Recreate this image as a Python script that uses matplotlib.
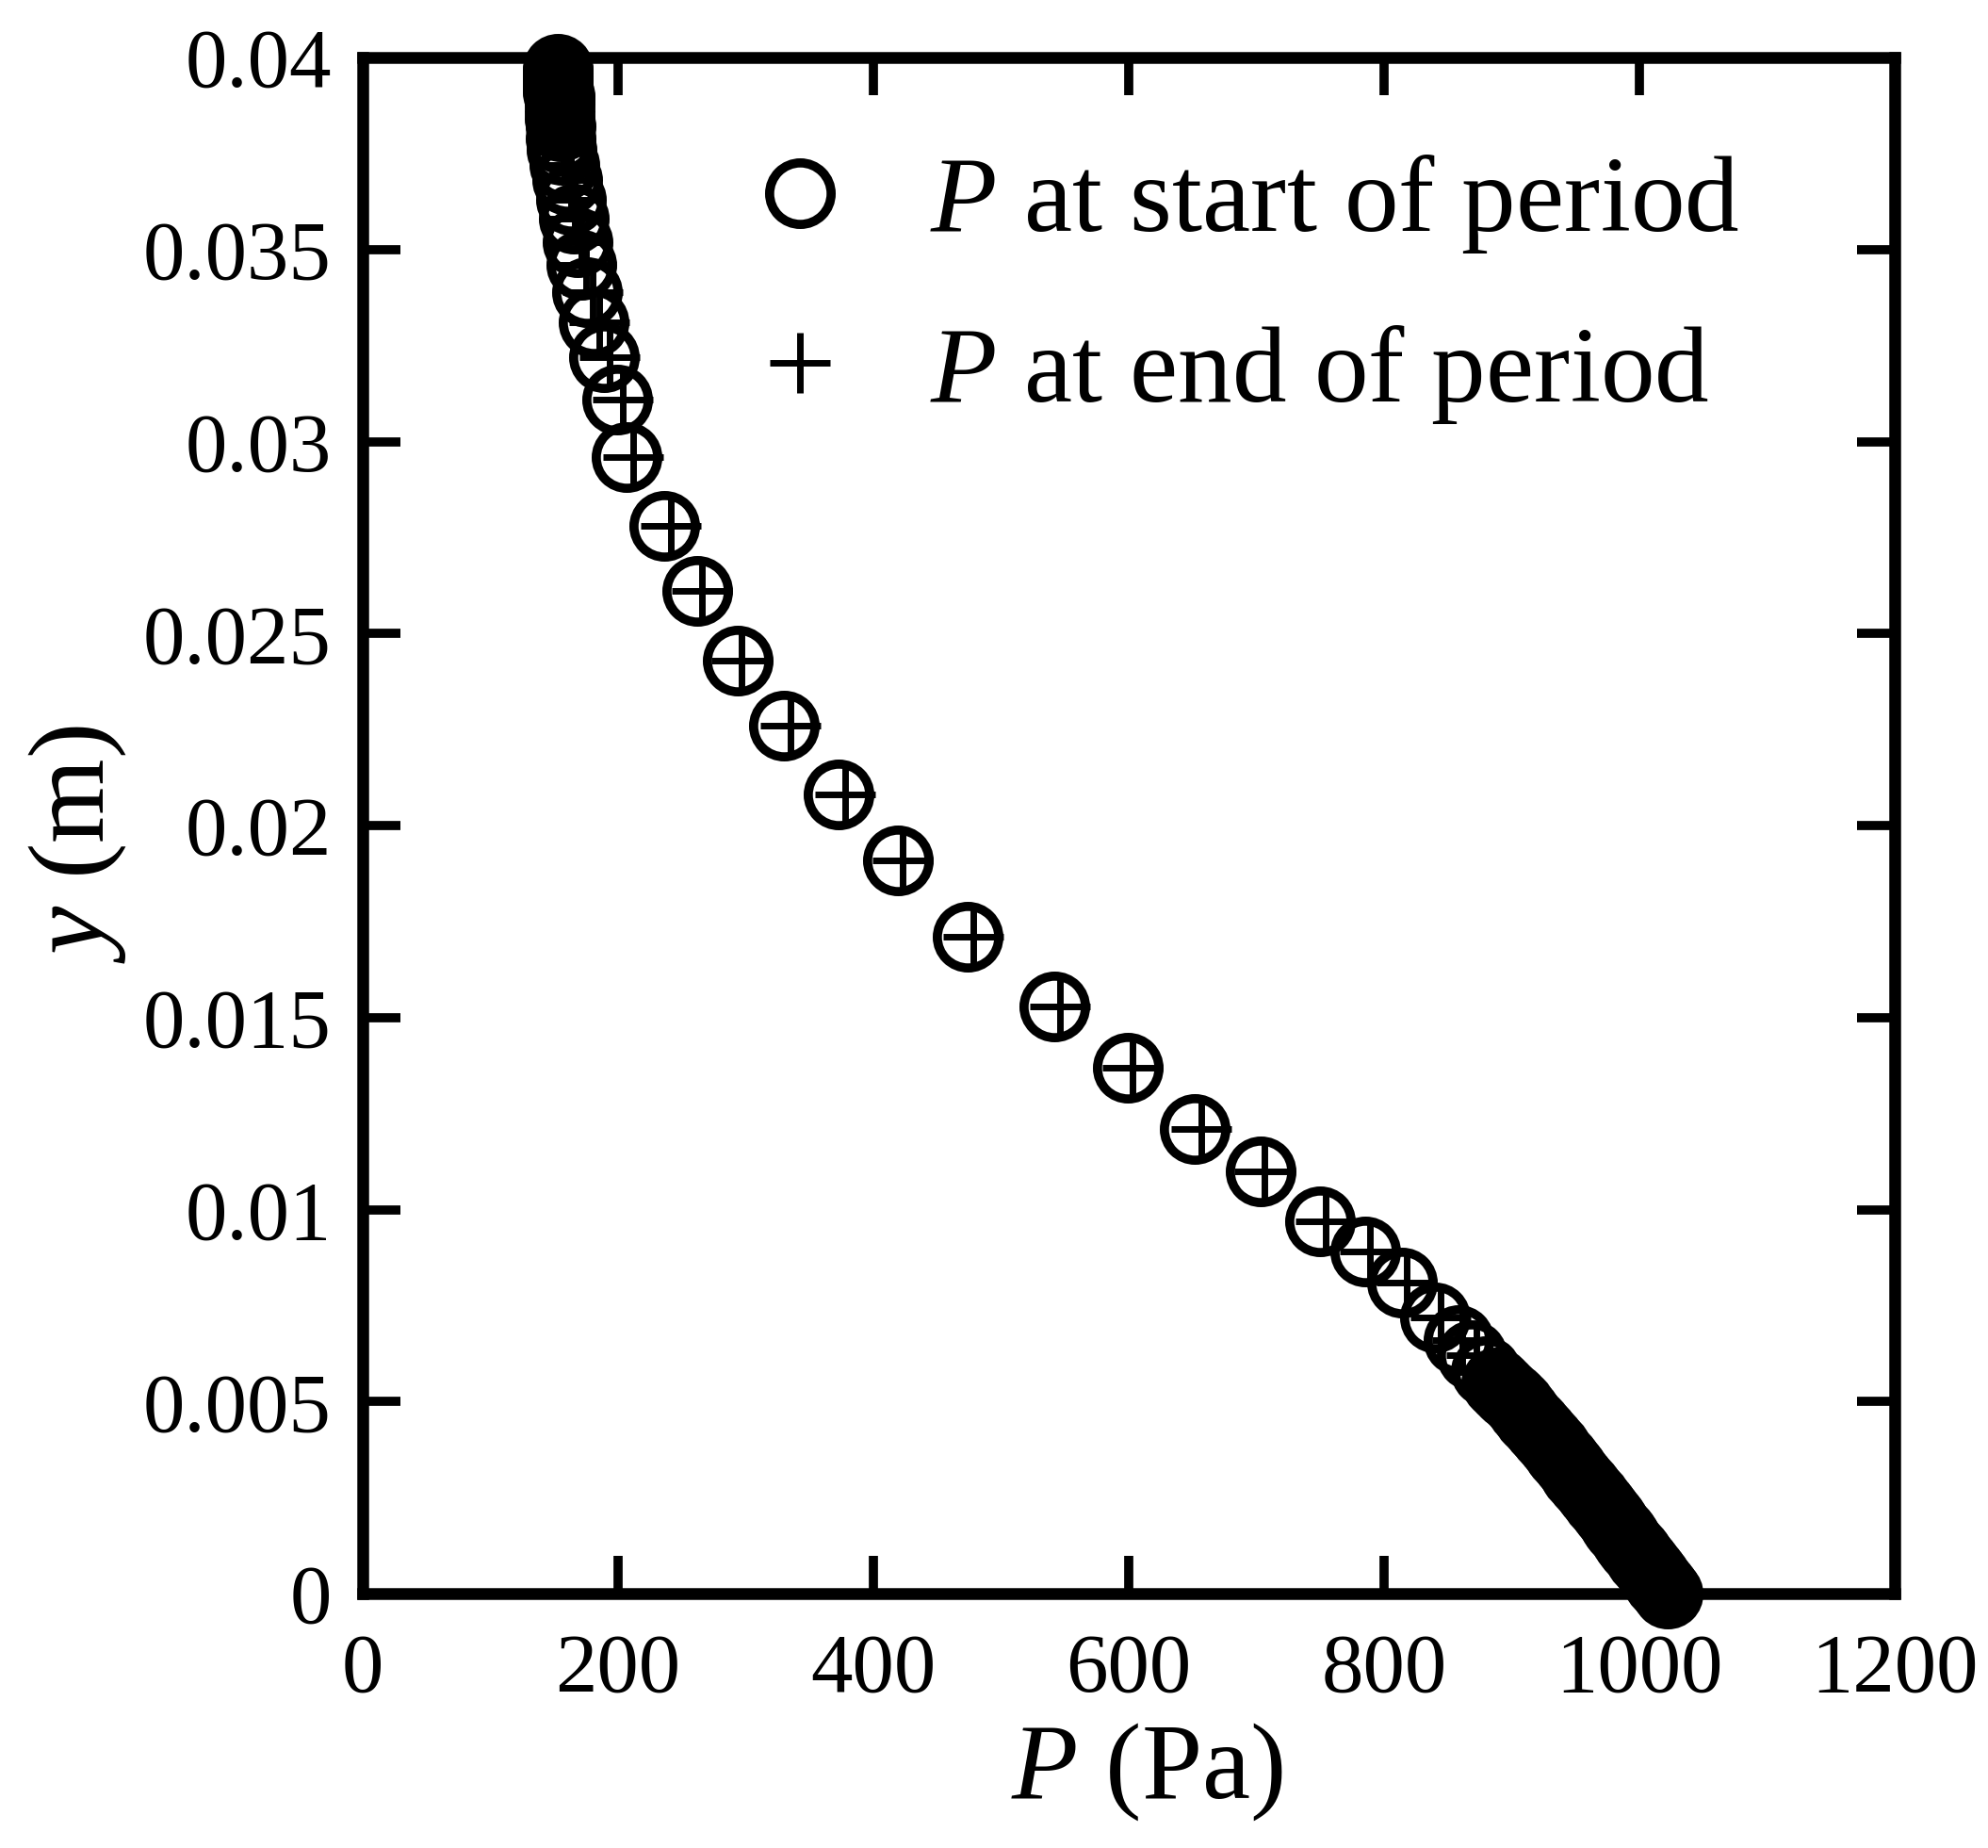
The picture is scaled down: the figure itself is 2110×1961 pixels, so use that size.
import matplotlib
matplotlib.use("Agg")
import matplotlib.pyplot as plt

# P profile across the layer (y in m, P in Pa)
# upper wall region (points packed close together)
y_top = [0.0397, 0.0396, 0.0395, 0.0394, 0.0393, 0.0392, 0.0391, 0.0390, 0.0389, 0.0388,
         0.0386, 0.0384, 0.0382, 0.0379, 0.0376, 0.0372, 0.0368, 0.0363, 0.0358, 0.0352,
         0.0346, 0.0339, 0.0331, 0.0322, 0.0311]
p_top_start = [153, 153, 153, 153, 153, 153, 153, 154, 154, 154,
               154, 154, 155, 155, 156, 158, 160, 163, 165, 168,
               171, 176, 181, 189, 199]
p_top_end = [155, 155, 155, 155, 155, 155, 155, 156, 156, 156,
             156, 156, 157, 157, 158, 161, 163, 166, 168, 171,
             175, 180, 185, 193, 204]

# middle of the layer
y_mid = [0.0296, 0.0278, 0.0261, 0.0243, 0.0226, 0.0208, 0.0191, 0.0171, 0.0153, 0.0137,
         0.0121, 0.0110, 0.0097, 0.0089, 0.0081, 0.0072, 0.0066, 0.0062, 0.0058]
p_mid_start = [207, 236, 262, 294, 330, 373, 419, 474, 542, 599,
               652, 703, 750, 785, 814, 840, 858, 869, 880]
p_mid_end = [212, 241, 266, 297, 335, 378, 423, 478, 546, 603,
             657, 706, 754, 789, 818, 844, 861, 872, 883]

# lower wall region (solid band of markers)
y_bot = [0.0055, 0.0054, 0.0053, 0.0052, 0.0051, 0.0050, 0.0049, 0.0048, 0.0047, 0.0046,
         0.0045, 0.0044, 0.0043, 0.0042, 0.0041, 0.0040, 0.0039, 0.0038, 0.0037, 0.0036,
         0.0035, 0.0034, 0.0033, 0.0032, 0.0031, 0.0030, 0.0029, 0.0028, 0.0027, 0.0026,
         0.0025, 0.0024, 0.0023, 0.0022, 0.0021, 0.0020, 0.0019, 0.0018, 0.0017, 0.0016,
         0.0015, 0.0014, 0.0013, 0.0012, 0.0011, 0.0010, 0.0009, 0.0008, 0.0007, 0.0006,
         0.0005, 0.0004, 0.0003, 0.0002, 0.0001, 0.0000]
p_bot_start = [888, 891, 894, 897, 900, 903, 906, 908, 911, 913,
               916, 919, 921, 924, 926, 929, 931, 934, 936, 938,
               941, 943, 946, 948, 950, 953, 955, 958, 960, 962,
               965, 967, 970, 972, 974, 977, 979, 981, 983, 986,
               988, 990, 992, 994, 997, 999, 1001, 1004, 1006, 1009,
               1011, 1013, 1015, 1018, 1020, 1022]
p_bot_end = [890, 893, 896, 899, 902, 905, 908, 910, 913, 915,
             918, 921, 923, 926, 928, 931, 933, 936, 938, 940,
             943, 945, 948, 950, 952, 955, 957, 960, 962, 964,
             967, 969, 972, 974, 976, 979, 981, 983, 985, 988,
             990, 992, 994, 996, 999, 1001, 1003, 1006, 1008, 1011,
             1013, 1015, 1017, 1020, 1022, 1024]

x_ticks = [0, 200, 400, 600, 800, 1000, 1200]
x_tick_labels = ["0", "200", "400", "600", "800", "1000", "1200"]
y_ticks = [0, 0.005, 0.01, 0.015, 0.02, 0.025, 0.03, 0.035, 0.04]
y_tick_labels = ["0", "0.005", "0.01", "0.015", "0.02", "0.025", "0.03", "0.035", "0.04"]

y_m = y_top + y_mid + y_bot
p_start = p_top_start + p_mid_start + p_bot_start
p_end = p_top_end + p_mid_end + p_bot_end

plt.rcParams['font.family'] = ['Liberation Serif', 'DejaVu Serif']
plt.rcParams['mathtext.fontset'] = 'custom'
plt.rcParams['mathtext.rm'] = 'Liberation Serif'
plt.rcParams['mathtext.it'] = 'Liberation Serif:italic'

fig = plt.figure(figsize=(21.1, 19.61), dpi=100)
ax = fig.add_axes([385 / 2110, 1 - 1691 / 1961, 1626 / 2110, 1630 / 1961])

ax.plot(p_start, y_m, ls='none', marker='o', ms=47, mfc='none', mec='black',
        mew=7, clip_on=False, label=r'$\it{P}$ at start of period')
ax.plot(p_end, y_m, ls='none', marker='+', ms=46, mec='black',
        mew=5, clip_on=False, label=r'$\it{P}$ at end of period')

ax.set_xlim(0, 1200)
ax.set_ylim(0, 0.04)
ax.set_xticks(x_ticks)
ax.set_xticklabels(x_tick_labels)
ax.set_yticks(y_ticks)
ax.set_yticklabels(y_tick_labels)
ax.tick_params(direction='in', length=29, width=7, top=True, right=True,
               labelsize=64, color='black')
ax.tick_params(axis='x', pad=30)
ax.tick_params(axis='y', pad=24)
for s in ax.spines.values():
    s.set_linewidth(9)

ax.set_xlabel(r'$\it{P}$ (Pa)', fontsize=83)
ax.set_ylabel(r'$\it{y}$ (m)', fontsize=83)
ax.xaxis.set_label_coords(0.512, -0.083)
ax.yaxis.set_label_coords(-0.153, 0.488)

ax.legend(loc='upper left', bbox_to_anchor=(0.25, 0.938), frameon=False,
          fontsize=83, handlelength=1.0, handletextpad=0.7, labelspacing=0.62,
          borderpad=0, borderaxespad=0, numpoints=1)

fig.savefig('out.png', dpi=100)
